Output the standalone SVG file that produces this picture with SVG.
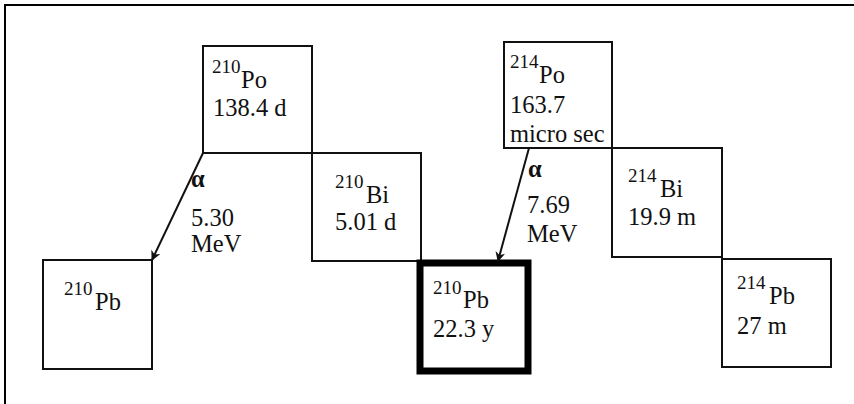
<svg xmlns="http://www.w3.org/2000/svg" width="854" height="404" viewBox="0 0 854 404" font-family="'Liberation Serif', 'DejaVu Serif', serif">
<style>
.box{fill:#fff;stroke:#111;stroke-width:2}
.thick{fill:#fff;stroke:#000;stroke-width:7}
text{font-family:'Liberation Serif','DejaVu Serif',serif;font-size:24.5px;fill:#111}
.sup{font-size:19px}
.alpha{font-weight:bold}
.conn{stroke:#111;stroke-width:2;fill:none}
</style>
<defs>
<marker id="ah" markerWidth="10" markerHeight="10" refX="9" refY="5" orient="auto" markerUnits="userSpaceOnUse">
<path d="M0,0 L10,5 L0,10 L3,5 Z" fill="#111"/>
</marker>
</defs>
<rect x="0" y="0" width="854" height="404" fill="#fff"/>
<path d="M5,404 V5 H854" fill="none" stroke="#000" stroke-width="2"/>
<g id="po210">
<rect class="box" x="203" y="46" width="109" height="107"/>
<text x="212" y="73" class="sup">210</text><text x="241" y="88">Po</text>
<text x="213" y="116">138.4 d</text>
</g>
<g id="bi210">
<rect class="box" x="312" y="153" width="109" height="108"/>
<text x="335" y="188" class="sup">210</text><text x="366" y="203">Bi</text>
<text x="335" y="230">5.01 d</text>
</g>
<g id="pb210a">
<rect class="box" x="43" y="260" width="109" height="109"/>
<text x="64" y="295" class="sup">210</text><text x="95" y="310">Pb</text>
</g>
<g id="pb210b">
<rect class="thick" x="420" y="263" width="108" height="108"/>
<text x="433" y="294" class="sup">210</text><text x="463" y="308">Pb</text>
<text x="433" y="337">22.3 y</text>
</g>
<g id="po214">
<rect class="box" x="504" y="42" width="108" height="106"/>
<text x="510" y="68" class="sup">214</text><text x="539" y="83">Po</text>
<text x="510" y="113">163.7</text>
<text x="510" y="142">micro sec</text>
</g>
<g id="bi214">
<rect class="box" x="612" y="148" width="110" height="109"/>
<text x="628" y="182" class="sup">214</text><text x="660" y="197">Bi</text>
<text x="628" y="225">19.9 m</text>
</g>
<g id="pb214">
<rect class="box" x="722" y="259" width="109" height="108"/>
<text x="737" y="289" class="sup">214</text><text x="769" y="304">Pb</text>
<text x="737" y="334">27 m</text>
</g>
<g id="connectors">
<line class="conn" x1="203" y1="153" x2="152" y2="260" marker-end="url(#ah)"/>
<line class="conn" x1="529" y1="148" x2="498" y2="261" marker-end="url(#ah)"/>
<text x="191" y="187" class="alpha">α</text>
<text x="191" y="226">5.30</text>
<text x="191" y="252">MeV</text>
<text x="528" y="177" class="alpha">α</text>
<text x="527" y="213">7.69</text>
<text x="527" y="242">MeV</text>
</g>
</svg>
